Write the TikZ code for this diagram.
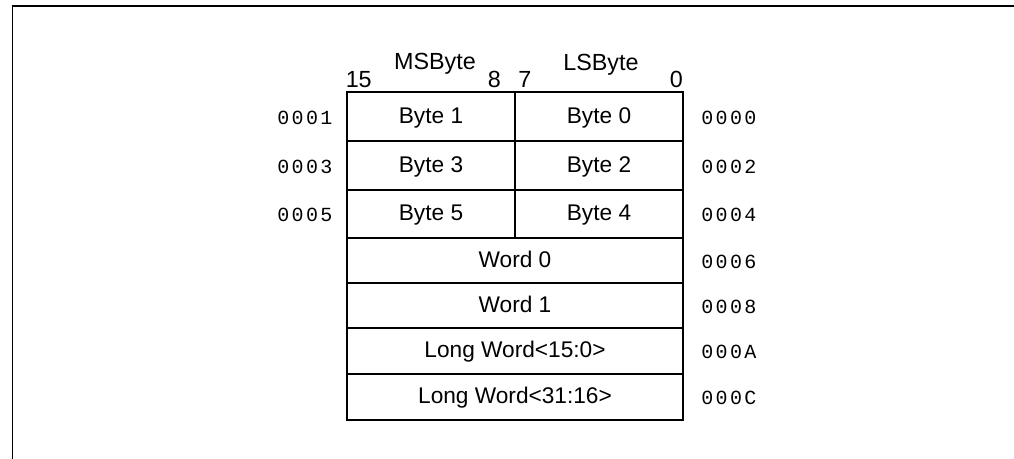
\documentclass[tikz,border=0pt]{standalone}
\usepackage{fontspec}
\setmainfont{Liberation Sans}
\newfontfamily\addrfont[LetterSpace=12]{Liberation Mono}
\usepackage{tikz}

\begin{document}
\begin{tikzpicture}[x=0.75pt,y=-0.75pt,
	cell/.style={draw, line width=1.5pt, inner sep=0pt, text height=10pt, text depth=0pt, font=\fontsize{17}{19}\selectfont},
	bytecell/.style={cell, minimum width=126pt},
	wordcell/.style={cell, minimum width=252pt},
	bitnum/.style={inner sep=0pt, font=\fontsize{17.5}{19}\selectfont},
	addr/.style={inner sep=0pt, anchor=base west, font=\addrfont\fontsize{15}{17}\selectfont}]
			\useasboundingbox (0,0) rectangle (1014,458);
			\clip (0,0) rectangle (1014,458);
			
			\draw[line width=1.4pt] (12.5,470) -- (12.5,5.8) -- (1030,5.8);
			
			\node[bitnum, anchor=base west] (n15) at (345.5,87){15};
			\node[bitnum, anchor=base] (msb) at (435,69.5){MSByte};
			\node[bitnum, anchor=base east] (n8) at (501,87){8};
			\node[bitnum, anchor=base west] (n7) at (518,87){7};
			\node[bitnum, anchor=base] (lsb) at (601,70){LSByte};
			\node[bitnum, anchor=base east] (n0) at (683,87){0};
			
			\foreach \hi/\lo/\y/\h in {1/0/116.5/36.75, 3/2/165.5/36.75, 5/4/214/36}{
				\node[bytecell, minimum height=\h pt] (b\hi) at (431,\y){Byte \hi};
				\node[bytecell, minimum height=\h pt] (b\lo) at (599,\y){Byte \lo};
				\node[addr] (a\hi) at (277,\y+7.5){000\hi};
				\node[addr] (a\lo) at (701,\y+7.5){000\lo};
			}
			
			\foreach \txt/\ad/\y/\h [count=\i from 0] in {Word 0/0006/260.5/33.75, Word 1/0008/305.5/33.75, Long Word<15:0>/000A/351/34.5, Long Word<31:16>/000C/397/34.5}{
				\node[wordcell, minimum height=\h pt] (w\i) at (515,\y){\txt};
				\node[addr] (aw\i) at (701,\y+7.5){\ad};
			}
		\end{tikzpicture}
\end{document}
